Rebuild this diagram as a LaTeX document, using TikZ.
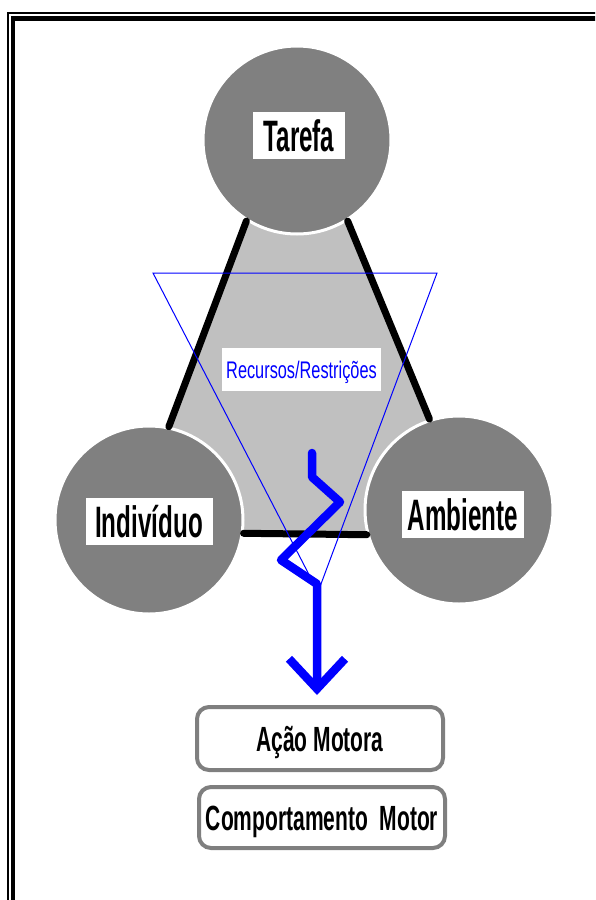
\documentclass[tikz,border=0pt]{standalone}
\usepackage{fontspec}
\setmainfont{Liberation Sans}
\newfontfamily\tagfont[FakeStretch=0.55]{Liberation Sans}
\newfontfamily\actfont[FakeStretch=0.6]{Liberation Sans}
\newfontfamily\notefont[FakeStretch=0.68]{Liberation Sans}
\usetikzlibrary{arrows.meta,backgrounds}
\definecolor{ballgray}{HTML}{808080}
\definecolor{zonegray}{HTML}{C0C0C0}
\definecolor{boxgray}{HTML}{7F7F7F}
\begin{document}
\begin{tikzpicture}[x=1pt, y=-1pt,
		main node/.style={circle,fill=ballgray,draw=white,line width=3pt,minimum size=188pt,inner sep=0pt},
		tag node/.style={fill=white,inner xsep=6pt,minimum height=47pt,text height=32pt,text depth=0pt,font=\tagfont\bfseries\fontsize{44}{48}\selectfont},
		act node/.style={draw=boxgray,line width=4pt,rounded corners=12pt,fill=white,minimum width=246pt,text height=25pt,text depth=0pt,font=\actfont\bfseries\fontsize{35}{40}\selectfont},
		side/.style={line width=7pt,line cap=round}]
			
			\clip (0,0) rectangle (595,900);
			% moldura
			\draw[line width=1.2pt] (8,13) rectangle (700,1000);
			\draw[line width=4.4pt] (13.2,18.3) rectangle (700,1000);
			
			\node[main node] (tarefa) at (297,140) {};
			\node[main node] (individuo) at (149,520) {};
			\node[main node] (ambiente) at (459,510) {};
			
			\node[tag node,minimum width=92pt] (tarefa-txt) at (299,135) {Tarefa};
			\node[tag node,minimum width=127pt] (individuo-txt) at (149,521) {Indivíduo};
			\node[tag node] (ambiente-txt) at (463,514) {Ambiente};
			
			\begin{pgfonlayer}{background}
			\fill[zonegray] (tarefa.238) -- (individuo.78) -- (individuo.-8) -- (ambiente.195) -- (ambiente.108) -- (tarefa.302) -- cycle;
			\end{pgfonlayer}
			
			\draw[side]
			(tarefa.238) edge (individuo.78)
			(tarefa.302) edge (ambiente.108)
			(individuo.-8) edge (ambiente.195);
			
			% triangulo
			\draw[blue,line width=1pt] (153,273) -- (437,273) -- (318,592) -- cycle;
			\node[fill=white,text=blue,minimum width=159pt,minimum height=43pt,inner sep=0pt,text height=17pt,text depth=0pt,font=\notefont\fontsize{24}{28}\selectfont] (recursos) at (301.5,369.5) {Recursos/Restrições};
			
			\node[act node,minimum height=63pt] (acao) at (320,738.5) {Ação Motora};
			\node[act node,minimum height=61pt] (comportamento) at (322,817.5) {Comportamento\ \ Motor};
			
			\coordinate (zz) at (312,453);
			\draw[blue,line width=8.5pt,line cap=round,line join=round,-{Straight Barb[length=30pt,width=56pt]}]
			(zz) -- ++(0,24) -- (340,502) -- (281,560) -- (317,584) -- ([xshift=-3pt,yshift=10pt]acao.north);
			\end{tikzpicture}
\end{document}
